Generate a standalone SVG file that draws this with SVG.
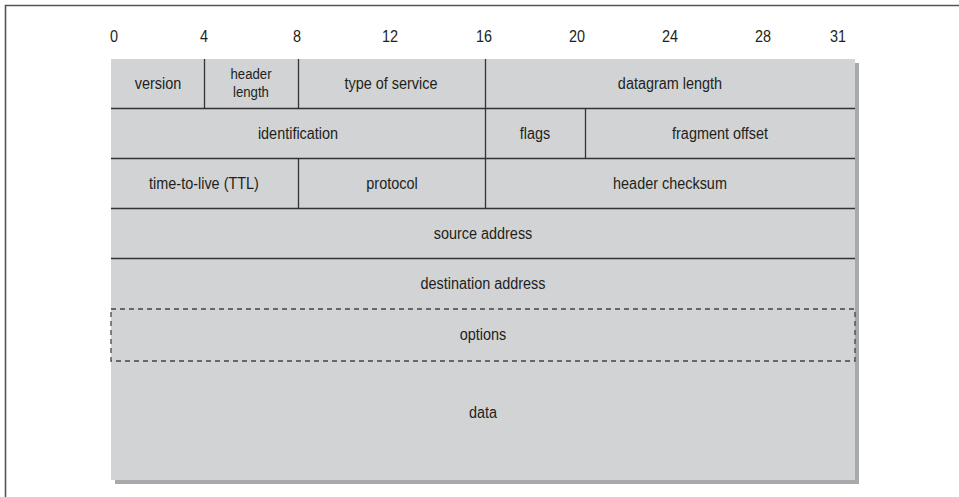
<svg xmlns="http://www.w3.org/2000/svg" width="959" height="497" viewBox="0 0 959 497">
<style>
text{font-family:"Liberation Sans",Arial,sans-serif;font-size:16.4px;fill:#231f20;text-anchor:middle;transform-box:fill-box;transform-origin:center;transform:scaleX(0.88)}
text.two{font-size:15px}
.cell{fill:#d1d3d4}
.ln{stroke:#333;stroke-width:1.3;fill:none}
.dash{stroke:#444;stroke-width:1.3;fill:none;stroke-dasharray:5,4}
</style>
<rect width="959" height="497" fill="#fff"/>
<path d="M5.5,497 V5.5 H959" stroke="#555" stroke-width="1.6" fill="none"/>
<g id="bit-scale">
<text x="114" y="42">0</text>
<text x="204" y="42">4</text>
<text x="297" y="42">8</text>
<text x="390" y="42">12</text>
<text x="484" y="42">16</text>
<text x="577" y="42">20</text>
<text x="670" y="42">24</text>
<text x="763" y="42">28</text>
<text x="838" y="42">31</text>
</g>
<g id="background">
<rect x="115" y="63" width="744" height="421" fill="#a7a9ac"/>
<rect class="cell" x="111" y="59" width="744" height="421"/>
</g>
<g id="connectors">
<line class="ln" x1="111" y1="108.5" x2="855" y2="108.5"/>
<line class="ln" x1="111" y1="158.5" x2="855" y2="158.5"/>
<line class="ln" x1="111" y1="208.5" x2="855" y2="208.5"/>
<line class="ln" x1="111" y1="258.5" x2="855" y2="258.5"/>
<line class="ln" x1="204.5" y1="59" x2="204.5" y2="108.5"/>
<line class="ln" x1="298.5" y1="59" x2="298.5" y2="108.5"/>
<line class="ln" x1="485.5" y1="59" x2="485.5" y2="208.5"/>
<line class="ln" x1="585.5" y1="108.5" x2="585.5" y2="158.5"/>
<line class="ln" x1="298.5" y1="158.5" x2="298.5" y2="208.5"/>
<rect class="dash" x="111" y="309" width="744" height="52"/>
</g>
<g id="version"><text x="158" y="89">version</text></g>
<g id="header-length"><text class="two" x="251" y="79.5">header</text><text class="two" x="251" y="97">length</text></g>
<g id="type-of-service"><text x="391" y="89">type of service</text></g>
<g id="datagram-length"><text x="670" y="89">datagram length</text></g>
<g id="identification"><text x="298" y="139">identification</text></g>
<g id="flags"><text x="535" y="139">flags</text></g>
<g id="fragment-offset"><text x="720" y="139">fragment offset</text></g>
<g id="ttl"><text x="204" y="189">time-to-live (TTL)</text></g>
<g id="protocol"><text x="392" y="189">protocol</text></g>
<g id="header-checksum"><text x="670" y="189">header checksum</text></g>
<g id="source-address"><text x="483" y="239">source address</text></g>
<g id="destination-address"><text x="483" y="289">destination address</text></g>
<g id="options"><text x="483" y="340">options</text></g>
<g id="data"><text x="483" y="418">data</text></g>
</svg>
